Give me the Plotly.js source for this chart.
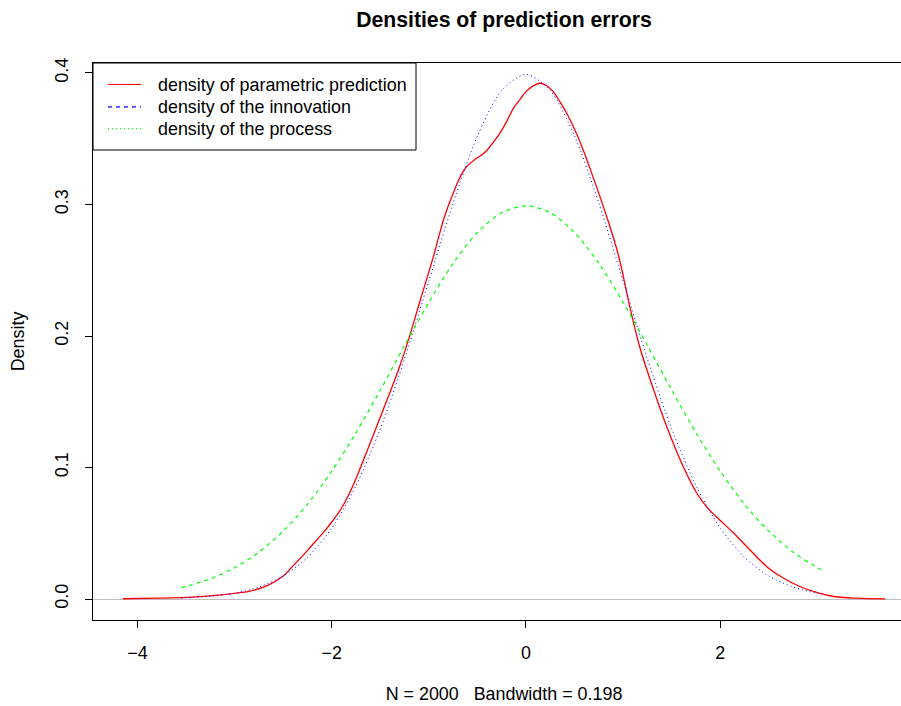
<!DOCTYPE html>
<html><head><meta charset="utf-8">
<script src="https://cdn.plot.ly/plotly-3.0.1.min.js"></script>
<style>html,body{margin:0;padding:0;overflow:hidden;background:#fff}#chart{width:915px;height:706px}</style>
</head><body><div id="chart"></div>
<script>
// density of parametric prediction (kernel estimate)
const xPred = [-4.15, -3.8, -3.5, -3.2, -3.0, -2.84, -2.67, -2.5, -2.42, -2.33, -2.25, -2.16, -2.07, -1.99, -1.90, -1.81, -1.72, -1.64, -1.47, -1.30, -1.20, -1.09, -0.955, -0.90, -0.85, -0.80, -0.75, -0.70, -0.66, -0.62, -0.58, -0.54, -0.50, -0.45, -0.40, -0.34, -0.27, -0.20, -0.13, -0.06, 0.0, 0.07, 0.14, 0.21, 0.28, 0.35, 0.42, 0.56, 0.69, 0.83, 0.95, 1.07, 1.17, 1.28, 1.45, 1.62, 1.76, 1.86, 1.96, 2.14, 2.29, 2.48, 2.65, 2.82, 3.0, 3.17, 3.4, 3.7];
const yPred = [0.0002, 0.0006, 0.0012, 0.0028, 0.0043, 0.0060, 0.0100, 0.0175, 0.0235, 0.0305, 0.037, 0.0445, 0.052, 0.0595, 0.069, 0.0815, 0.097, 0.112, 0.144, 0.177, 0.1995, 0.227, 0.260, 0.275, 0.2882, 0.299, 0.3085, 0.3175, 0.3235, 0.328, 0.331, 0.3335, 0.3356, 0.338, 0.3414, 0.347, 0.3541, 0.363, 0.3731, 0.380, 0.3858, 0.390, 0.3922, 0.3905, 0.3858, 0.378, 0.3694, 0.347, 0.321, 0.291, 0.262, 0.222, 0.192, 0.1665, 0.131, 0.1006, 0.0804, 0.0700, 0.0626, 0.050, 0.0386, 0.0246, 0.016, 0.0095, 0.0048, 0.0019, 0.0006, 0.0001];
// grid for innovation / process densities
const xGrid = [-3.55, -3.5, -3.25, -3.0, -2.75, -2.5, -2.25, -2.0, -1.75, -1.5, -1.25, -1.0, -0.75, -0.5, -0.25, 0, 0.25, 0.5, 0.75, 1.0, 1.25, 1.5, 1.75, 2.0, 2.25, 2.5, 2.75, 3.0, 3.05];
const yInnovation = [0.0007, 0.0009, 0.0020, 0.0044, 0.0091, 0.0175, 0.0317, 0.0540, 0.0863, 0.1295, 0.1826, 0.2420, 0.3011, 0.3521, 0.3867, 0.3989, 0.3867, 0.3521, 0.3011, 0.2420, 0.1826, 0.1295, 0.0863, 0.0540, 0.0317, 0.0175, 0.0091, 0.0044, 0.0038];
const yProcess = [0.0087, 0.0096, 0.0154, 0.0238, 0.0357, 0.0516, 0.0721, 0.0972, 0.1265, 0.1589, 0.1928, 0.2257, 0.2553, 0.2787, 0.2938, 0.2990, 0.2938, 0.2787, 0.2553, 0.2257, 0.1928, 0.1589, 0.1265, 0.0972, 0.0721, 0.0516, 0.0357, 0.0238, 0.0219];
const legendNames = ['density of parametric prediction', 'density of the innovation', 'density of the process'];
const legendColors = ['#FF0000', '#0000FF', '#00FF00'];
const legendDashes = ['solid', '4px,4px', '1px,3px'];
const xTicks = [-4, -2, 0, 2];
const yTicks = [0, 0.1, 0.2, 0.3, 0.4];
const titleText = 'Densities of prediction errors';
const xTitle = 'N = 2000\u00a0\u00a0\u00a0Bandwidth = 0.198';
const yTitle = 'Density';

const FONT = 'Liberation Sans, Arial, Helvetica, sans-serif';
const FS = 17.9;
const traces = [
  {x: xPred, y: yPred, mode: 'lines', name: legendNames[0], showlegend: false,
   line: {color: '#FF0000', width: 1.3, shape: 'spline', smoothing: 1}},
  {x: xGrid, y: yInnovation, mode: 'lines', name: legendNames[1], showlegend: false,
   line: {color: '#0000FF', width: 1, dash: '1px,3px', shape: 'spline', smoothing: 0.8}},
  {x: xGrid, y: yProcess, mode: 'lines', name: legendNames[2], showlegend: false,
   line: {color: '#00FF00', width: 1.2, dash: '4px,4px', shape: 'spline', smoothing: 0.8}}
];

// legend box drawn in paper coordinates (plot area: 93..915 px wide, 63..620 px tall)
const PW = 822, PH = 557;
const px = p => (p - 93) / PW;
const py = q => (620 - q) / PH;
const rowY = [84.5, 106.8, 128.6];
const shapes = [
  {type: 'rect', xref: 'paper', yref: 'paper', x0: px(93), x1: px(416), y0: py(150), y1: py(63),
   line: {color: '#000', width: 1}, fillcolor: '#fff', layer: 'above'}
];
const annotations = [];
legendNames.forEach((name, i) => {
  shapes.push({type: 'line', xref: 'paper', yref: 'paper', x0: px(108), x1: px(141), y0: py(rowY[i]), y1: py(rowY[i]),
               line: {color: legendColors[i], width: 1.2, dash: legendDashes[i]}, layer: 'above'});
  annotations.push({xref: 'paper', yref: 'paper', x: px(156), y: py(rowY[i]), xanchor: 'left', yanchor: 'middle',
                    text: name, showarrow: false, font: {family: FONT, size: FS, color: '#000'}});
});

const layout = {
  width: 915, height: 706,
  margin: {l: 93, r: 0, t: 63, b: 86, pad: 0},
  paper_bgcolor: '#fff', plot_bgcolor: '#fff',
  font: {family: FONT, color: '#000', size: FS},
  hovermode: false, showlegend: false,
  title: {text: titleText, font: {family: FONT, size: 21.2, weight: 'bold', color: '#000'},
          x: 0.5, xref: 'paper', xanchor: 'center', y: 1 - 20 / 706, yref: 'container', yanchor: 'middle'},
  xaxis: {range: [-4.459, 4.006], tickvals: xTicks, ticks: 'outside', ticklen: 7, tickwidth: 1, tickcolor: '#000',
          showline: true, linecolor: '#000', linewidth: 1, mirror: true, showgrid: false, zeroline: false,
          tickfont: {size: FS}, ticklabelstandoff: 10,
          title: {text: xTitle, font: {size: FS}, standoff: 24}},
  yaxis: {range: [-0.01597, 0.4076], tickvals: yTicks, tickformat: '.1f', tickangle: -90,
          ticks: 'outside', ticklen: 7, tickwidth: 1, tickcolor: '#000',
          showline: true, linecolor: '#000', linewidth: 1, mirror: true, showgrid: false,
          zeroline: true, zerolinecolor: '#BEBEBE', zerolinewidth: 1,
          tickfont: {size: FS}, ticklabelstandoff: 10,
          title: {text: yTitle, font: {size: FS}, standoff: 22}},
  shapes: shapes,
  annotations: annotations
};

Plotly.newPlot('chart', traces, layout, {staticPlot: true, displayModeBar: false});
</script>
</body></html>
